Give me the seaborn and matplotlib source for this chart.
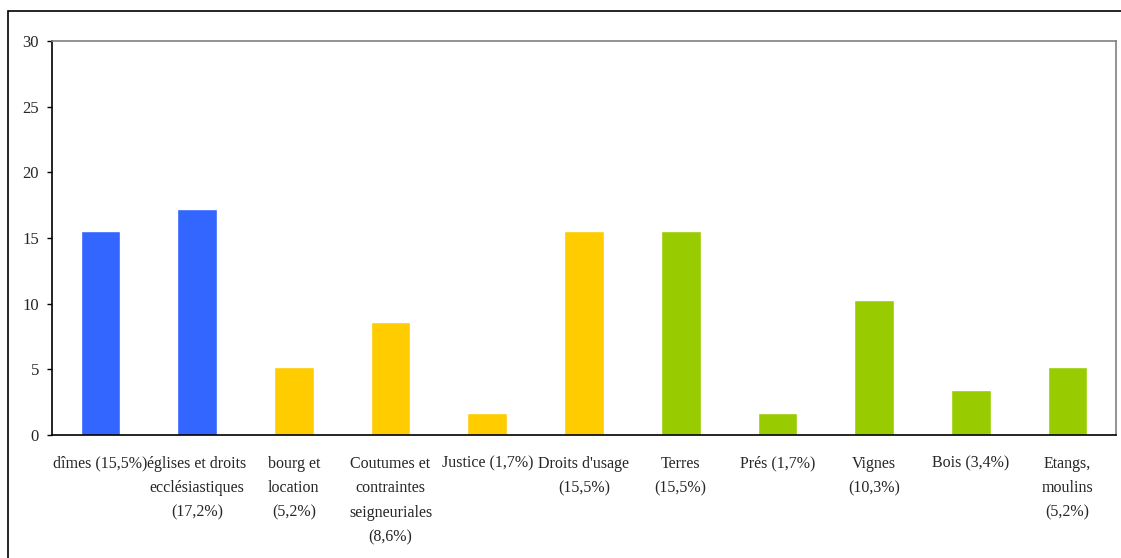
import seaborn as sns
import matplotlib.pyplot as plt
from matplotlib.patches import Rectangle
import pandas as pd

labels = ["dîmes (15,5%)", "églises et droits\necclésiastiques\n(17,2%)", "bourg et\nlocation\n(5,2%)",
          "Coutumes et\ncontraintes\nseigneuriales\n(8,6%)", "Justice (1,7%)", "Droits d'usage\n(15,5%)",
          "Terres\n(15,5%)", "Prés (1,7%)", "Vignes\n(10,3%)", "Bois (3,4%)", "Etangs,\nmoulins\n(5,2%)"]
values = [15.5, 17.2, 5.2, 8.6, 1.7, 15.5, 15.5, 1.7, 10.3, 3.4, 5.2]
groups = ["eglise", "eglise", "seigneurie", "seigneurie", "seigneurie", "seigneurie",
          "terre", "terre", "terre", "terre", "terre"]
palette = {"eglise": "#3366FF", "seigneurie": "#FFCC00", "terre": "#99CC00"}

df = pd.DataFrame({"cat": labels, "val": values, "grp": groups})

sns.set_style("white")
plt.rcParams['font.family'] = ['Liberation Serif', 'DejaVu Serif']

fig = plt.figure(figsize=(11.21, 5.58), dpi=100)
ax = fig.add_axes([52/1121, 1-435/558, (1116-52)/1121, (435-41)/558])
sns.barplot(data=df, x="cat", y="val", hue="grp", palette=palette, dodge=False,
            width=0.41, legend=False, ax=ax, saturation=1)

ax.set_ylim(0, 30)
ax.set_yticks(range(0, 31, 5))
ax.set_xlim(-0.5, len(labels) - 0.5)
ax.set_xlabel("")
ax.set_ylabel("")
ax.tick_params(axis="y", which="major", direction="out", length=3.6, width=1, color="black",
               left=True, labelsize=12, pad=5.8)
ax.tick_params(axis="x", length=0, labelsize=11.5, pad=15)
for t in ax.get_xticklabels():
    t.set_linespacing(1.7)
    t.set_verticalalignment("top")

for s in ["left", "bottom"]:
    ax.spines[s].set_color("black")
    ax.spines[s].set_linewidth(1.2)
for s in ["top", "right"]:
    ax.spines[s].set_color("#808080")
    ax.spines[s].set_linewidth(1.2)

# cadre extérieur (bords droit et bas hors image)
fig.patches.append(Rectangle((8/1121, -0.1), 2, 1 - 11/558 + 0.1, transform=fig.transFigure,
                             fill=False, edgecolor="black", linewidth=1.2, clip_on=False))

fig.savefig("out.png", dpi=100)
